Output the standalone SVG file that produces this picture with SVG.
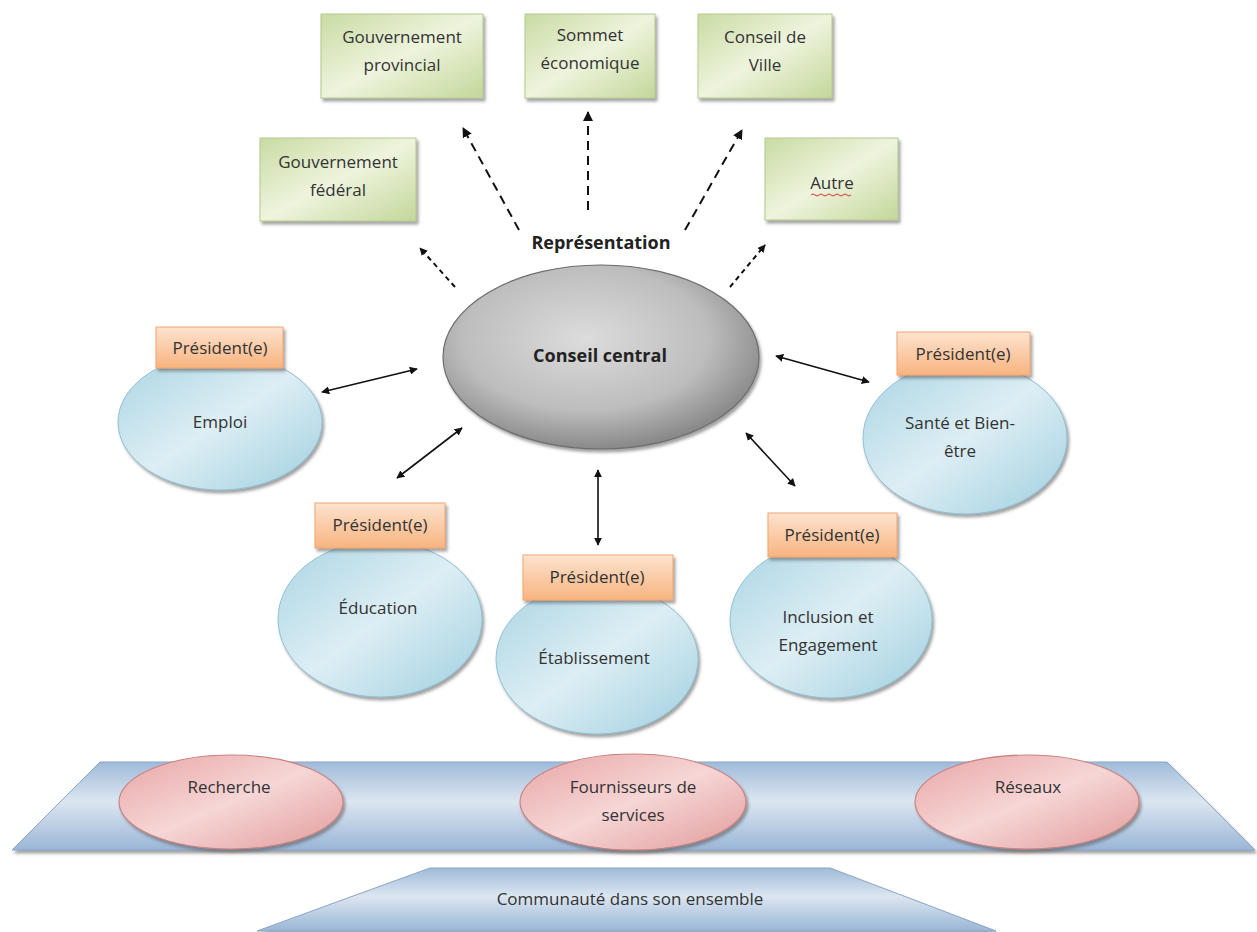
<svg xmlns="http://www.w3.org/2000/svg" width="1257" height="932" viewBox="0 0 1257 932">
<defs>
  <linearGradient id="gGreen" x1="0" y1="0" x2="1" y2="1">
    <stop offset="0" stop-color="#c9dba3"/>
    <stop offset="0.5" stop-color="#eef4dd"/>
    <stop offset="1" stop-color="#c3d79a"/>
  </linearGradient>
  <linearGradient id="gOrange" x1="0" y1="0" x2="0" y2="1">
    <stop offset="0" stop-color="#fde3cf"/>
    <stop offset="1" stop-color="#f8b47f"/>
  </linearGradient>
  <linearGradient id="gBlue" x1="0" y1="0" x2="1" y2="1">
    <stop offset="0" stop-color="#a9d4e3"/>
    <stop offset="0.5" stop-color="#ddeef4"/>
    <stop offset="1" stop-color="#9fcfe0"/>
  </linearGradient>
  <radialGradient id="gGray" cx="0.45" cy="0.4" r="0.65">
    <stop offset="0" stop-color="#dcdcdc"/>
    <stop offset="0.6" stop-color="#bdbdbd"/>
    <stop offset="1" stop-color="#7d7d7d"/>
  </radialGradient>
  <linearGradient id="gPink" x1="0" y1="0" x2="1" y2="1">
    <stop offset="0" stop-color="#e9a5a5"/>
    <stop offset="0.5" stop-color="#f6d6d6"/>
    <stop offset="1" stop-color="#e29a9a"/>
  </linearGradient>
  <linearGradient id="gPlat" x1="0" y1="0" x2="0" y2="1">
    <stop offset="0" stop-color="#9fbbd9"/>
    <stop offset="0.45" stop-color="#dce6f1"/>
    <stop offset="1" stop-color="#9ab6d6"/>
  </linearGradient>
  <filter id="sh" x="-10%" y="-10%" width="125%" height="130%">
    <feDropShadow dx="2" dy="3" stdDeviation="1.5" flood-color="#555" flood-opacity="0.55"/>
  </filter>
  <marker id="ah" viewBox="0 0 10 10" refX="9" refY="5" markerWidth="8" markerHeight="8" markerUnits="userSpaceOnUse" orient="auto-start-reverse">
    <path d="M0,0 L10,5 L0,10 z" fill="#111"/>
  </marker>
  <marker id="ah2" viewBox="0 0 10 10" refX="9" refY="5" markerWidth="10" markerHeight="10" markerUnits="userSpaceOnUse" orient="auto-start-reverse">
    <path d="M0,0 L10,5 L0,10 z" fill="#111"/>
  </marker>
</defs>
<style>
  .t { font-family: "Open Sans", "Liberation Sans", sans-serif; font-size: 17px; fill: #333; text-anchor: middle; }
  .b { font-family: "Open Sans", "Liberation Sans", sans-serif; font-size: 18px; font-weight: bold; fill: #222; text-anchor: middle; }
  .green { fill: url(#gGreen); stroke: #b6c98e; stroke-width: 1; filter: url(#sh); }
  .orange { fill: url(#gOrange); stroke: #f0a670; stroke-width: 1; filter: url(#sh); }
  .blue { fill: url(#gBlue); stroke: #8fc0d2; stroke-width: 1; filter: url(#sh); }
  .pink { fill: url(#gPink); stroke: #c98484; stroke-width: 1.2; filter: url(#sh); }
  .plat { fill: url(#gPlat); stroke: #8aa5c4; stroke-width: 1; filter: url(#sh); }
  .dash { stroke: #111; stroke-width: 2; stroke-dasharray: 9 6; fill: none; marker-end: url(#ah2); }
  .dash2 { stroke: #111; stroke-width: 2; stroke-dasharray: 5 4; fill: none; marker-end: url(#ah); }
  .bi { stroke: #111; stroke-width: 1.6; fill: none; marker-start: url(#ah); marker-end: url(#ah); }
</style>
<rect x="0" y="0" width="1257" height="932" fill="#ffffff"/>

<g id="platform">
  <polygon class="plat" points="100,762 1167,762 1255,850 12,850"/>
</g>
<g id="communaute">
  <polygon class="plat" points="430,868 830,868 996,931 257,931"/>
  <text class="t" x="630" y="905">Communauté dans son ensemble</text>
</g>

<g id="recherche">
  <ellipse class="pink" cx="231" cy="802" rx="112" ry="47"/>
  <text class="t" x="229" y="793">Recherche</text>
</g>
<g id="fournisseurs">
  <ellipse class="pink" cx="633" cy="802" rx="113" ry="48"/>
  <text class="t" x="633" y="793">Fournisseurs de</text>
  <text class="t" x="633" y="821">services</text>
</g>
<g id="reseaux">
  <ellipse class="pink" cx="1027" cy="802" rx="112" ry="47"/>
  <text class="t" x="1028" y="793">Réseaux</text>
</g>

<g id="gouv-provincial">
  <rect class="green" x="321" y="14" width="162" height="84"/>
  <text class="t" x="402" y="43">Gouvernement</text>
  <text class="t" x="402" y="71">provincial</text>
</g>
<g id="sommet">
  <rect class="green" x="525" y="14" width="130" height="84"/>
  <text class="t" x="590" y="41">Sommet</text>
  <text class="t" x="590" y="69">économique</text>
</g>
<g id="conseil-ville">
  <rect class="green" x="698" y="14" width="134" height="84"/>
  <text class="t" x="765" y="43">Conseil de</text>
  <text class="t" x="765" y="71">Ville</text>
</g>
<g id="gouv-federal">
  <rect class="green" x="260" y="138" width="156" height="83"/>
  <text class="t" x="338" y="168">Gouvernement</text>
  <text class="t" x="338" y="196">fédéral</text>
</g>
<g id="autre">
  <rect class="green" x="765" y="138" width="133" height="82"/>
  <text class="t" x="832" y="189">Autre</text>
  <path d="M811,195 q2,-2 4,0 t4,0 t4,0 t4,0 t4,0 t4,0 t4,0 t4,0 t4,0 t4,0" fill="none" stroke="#d33" stroke-width="1"/>
</g>

<g id="connectors">
  <line class="dash2" x1="455" y1="287" x2="420" y2="248"/>
  <line class="dash" x1="519" y1="230" x2="463" y2="128"/>
  <line class="dash" x1="588" y1="210" x2="588" y2="112"/>
  <line class="dash" x1="685" y1="230" x2="742" y2="130"/>
  <line class="dash2" x1="730" y1="287" x2="765" y2="245"/>
  <line class="bi" x1="322" y1="392" x2="417" y2="369"/>
  <line class="bi" x1="397" y1="478" x2="462" y2="428"/>
  <line class="bi" x1="598" y1="470" x2="598" y2="545"/>
  <line class="bi" x1="746" y1="433" x2="795" y2="486"/>
  <line class="bi" x1="776" y1="356" x2="869" y2="382"/>
</g>

<g id="representation">
  <text class="b" x="601" y="249">Représentation</text>
</g>

<g id="conseil-central">
  <ellipse cx="601" cy="357" rx="158" ry="92" fill="url(#gGray)" stroke="#6e6e6e" stroke-width="1.2" filter="url(#sh)"/>
  <text class="b" x="600" y="362">Conseil central</text>
</g>

<g id="emploi">
  <ellipse class="blue" cx="220" cy="422" rx="102" ry="68"/>
  <rect class="orange" x="156" y="327" width="127" height="41"/>
  <text class="t" x="220" y="354">Président(e)</text>
  <text class="t" x="220" y="428">Emploi</text>
</g>
<g id="sante">
  <ellipse class="blue" cx="965" cy="438" rx="102" ry="76"/>
  <rect class="orange" x="897" y="332" width="133" height="43"/>
  <text class="t" x="963" y="360">Président(e)</text>
  <text class="t" x="960" y="429">Santé et Bien-</text>
  <text class="t" x="960" y="457">être</text>
</g>
<g id="education">
  <ellipse class="blue" cx="380" cy="619" rx="102" ry="78"/>
  <rect class="orange" x="315" y="503" width="130" height="45"/>
  <text class="t" x="380" y="531">Président(e)</text>
  <text class="t" x="378" y="614">Éducation</text>
</g>
<g id="etablissement">
  <ellipse class="blue" cx="597" cy="659" rx="101" ry="75"/>
  <rect class="orange" x="523" y="555" width="150" height="45"/>
  <text class="t" x="597" y="583">Président(e)</text>
  <text class="t" x="594" y="664">Établissement</text>
</g>
<g id="inclusion">
  <ellipse class="blue" cx="831" cy="620" rx="101" ry="78"/>
  <rect class="orange" x="768" y="513" width="129" height="44"/>
  <text class="t" x="832" y="541">Président(e)</text>
  <text class="t" x="828" y="623">Inclusion et</text>
  <text class="t" x="828" y="651">Engagement</text>
</g>
</svg>
